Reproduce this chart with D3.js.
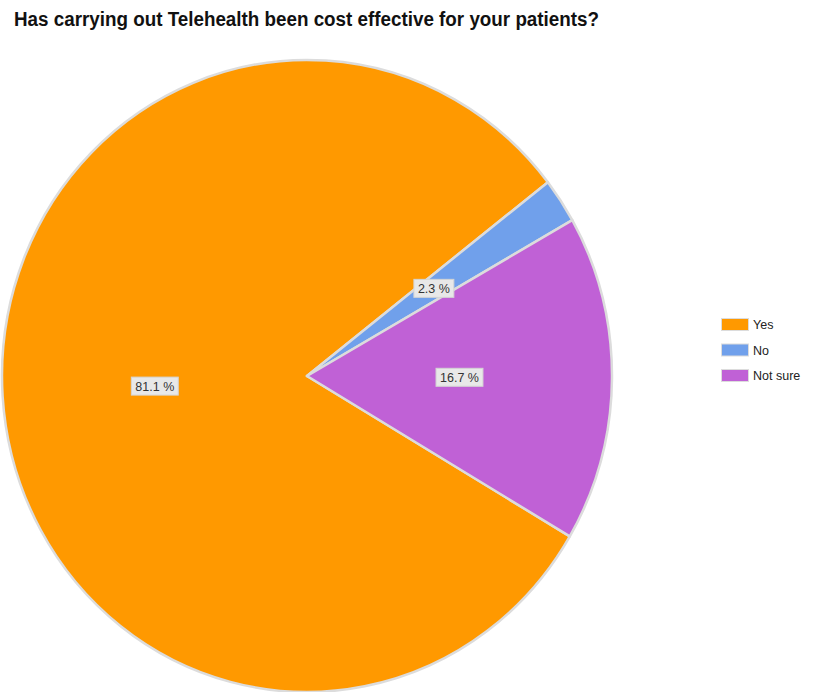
<!DOCTYPE html>
<html>
<head>
<meta charset="utf-8">
<script src="https://cdn.jsdelivr.net/npm/d3@7"></script>
<style>
  html, body { margin: 0; padding: 0; background: #fff; }
  svg { display: block; }
</style>
</head>
<body>
<svg id="chart" width="816" height="692"></svg>
<script>
// Survey answers and their shares (percent)
const title = "Has carrying out Telehealth been cost effective for your patients?";
const categories = ["Yes", "No", "Not sure"];
const values = [81.1, 2.3, 16.7];
const colors = ["#ff9900", "#70a0eb", "#c061d6"];

const svg = d3.select("#chart");

// Title (slightly condensed bold face)
svg.append("text")
  .attr("x", 14).attr("y", 26)
  .attr("font-family", "Liberation Sans, Arial, sans-serif")
  .attr("font-weight", "bold")
  .attr("font-size", 20)
  .attr("textLength", 585)
  .attr("lengthAdjust", "spacingAndGlyphs")
  .attr("fill", "#111")
  .text(title);

// Pie geometry: drawn on a unit radius, then stretched slightly taller than wide
const cx = 307, cy = 376, rx = 305, ry = 316;
const R = 100;

const startDeg = 120.5;
const pie = d3.pie()
  .sort(null)
  .value(d => d)
  .startAngle(startDeg * Math.PI / 180)
  .endAngle((startDeg + 360) * Math.PI / 180);

const arcs = pie(values);
const arc = d3.arc().innerRadius(0).outerRadius(R);
const labelArc = d3.arc().innerRadius(R * 0.5).outerRadius(R * 0.5);

const g = svg.append("g")
  .attr("transform", `translate(${cx},${cy}) scale(${rx / R},${ry / R})`);

g.selectAll("path.slice")
  .data(arcs)
  .join("path")
  .attr("class", "slice")
  .attr("d", arc)
  .attr("fill", (d, i) => colors[i])
  .attr("stroke", "#dcdcdc")
  .attr("stroke-width", 2.5)
  .attr("stroke-linejoin", "round")
  .attr("vector-effect", "non-scaling-stroke");

// Percentage labels in small grey boxes
const lab = svg.append("g")
  .attr("font-family", "Liberation Sans, Arial, sans-serif")
  .attr("font-size", 12.5);

arcs.forEach((d, i) => {
  const [px, py] = labelArc.centroid(d);
  const x = cx + px * rx / R;
  const y = cy + py * ry / R;
  const grp = lab.append("g").attr("transform", `translate(${x},${y})`);
  const t = grp.append("text")
    .attr("text-anchor", "middle")
    .attr("dy", "0.36em")
    .attr("fill", "#333")
    .text(values[i].toFixed(1) + " %");
  const bb = t.node().getBBox();
  grp.insert("rect", "text")
    .attr("x", bb.x - 4)
    .attr("y", -9)
    .attr("width", bb.width + 8)
    .attr("height", 18)
    .attr("fill", "#e8e8e8")
    .attr("stroke", "#d4d4d4")
    .attr("stroke-width", 1);
});

// Legend
const legend = svg.append("g")
  .attr("transform", "translate(721,318)")
  .attr("font-family", "Liberation Sans, Arial, sans-serif")
  .attr("font-size", 12.5);

const item = legend.selectAll("g")
  .data(categories)
  .join("g")
  .attr("transform", (d, i) => `translate(0,${i * 25.5})`);

item.append("rect")
  .attr("x", 0.5).attr("y", 0.5)
  .attr("width", 27).attr("height", 12)
  .attr("fill", (d, i) => colors[i])
  .attr("stroke", "#dcdcdc")
  .attr("stroke-width", 1);

item.append("text")
  .attr("x", 32)
  .attr("y", 6.5)
  .attr("dy", "0.36em")
  .attr("fill", "#222")
  .text(d => d);
</script>
</body>
</html>
